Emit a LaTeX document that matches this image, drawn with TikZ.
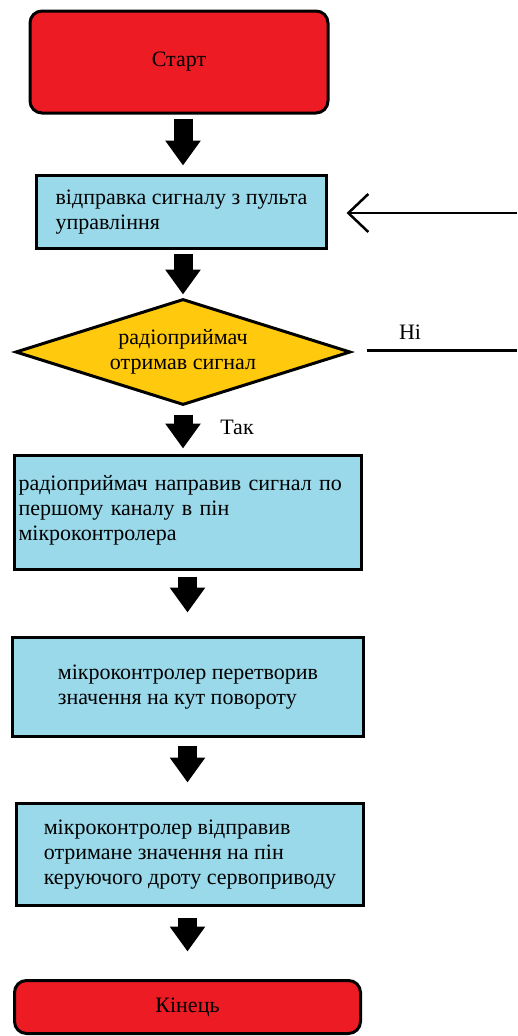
\documentclass[tikz,border=0pt]{standalone}
\usepackage{fontspec}
\setmainfont{Liberation Serif}
\usetikzlibrary{shapes.geometric,arrows.meta}
\definecolor{termred}{HTML}{ED1C24}
\definecolor{boxblue}{HTML}{99D9EA}
\definecolor{decyellow}{HTML}{FFC90E}
\begin{document}
\begin{tikzpicture}[x=1pt, y=-1pt,
  every node/.style={font=\rmfamily\fontsize{22}{25}\selectfont},
  term/.style={draw, line width=3pt, fill=termred, rounded corners=12pt},
  stepbox/.style={draw, line width=3pt, fill=boxblue, align=left, inner sep=0pt},
  decision/.style={diamond, shape aspect=3.2, draw, line width=3pt, fill=decyellow, align=center, inner sep=0pt},
  flow/.style={line width=19pt, -{Triangle[length=25pt, width=34pt]}}]
  \useasboundingbox (0,0) rectangle (517,1036);
  % блоки
  \node[term, minimum width=298pt, minimum height=102pt] (start) at (179,62) {Старт};
  \node[stepbox, minimum width=290pt, minimum height=73pt] (send) at (181.5,212)
    {відправка сигналу з пульта\\управління};
  \node[decision, minimum width=335pt, minimum height=106pt] (dec) at (183,352)
    {радіоприймач\\отримав сигнал};
  \node[stepbox, text width=339pt, inner xsep=4pt, minimum height=114pt] (route) at (188,512.5)
    {радіоприймач направив сигнал по\\першому каналу в пін\\мікроконтролера\\[-16pt]\mbox{}};
  \node[stepbox, minimum width=351pt, minimum height=99pt] (convert) at (188,687)
    {мікроконтролер перетворив\\значення на кут повороту};
  \node[stepbox, minimum width=347pt, minimum height=102pt] (servo) at (190,854.5)
    {мікроконтролер відправив\\отримане значення на пін\\керуючого дроту сервоприводу};
  \node[term, minimum width=346pt, minimum height=53pt] (stop) at (187.5,1007) {Кінець};
  % стрілки
  \draw[flow, shorten <=4pt, shorten >=8.5pt] (start.south -| dec.center) -- (send.north -| dec.center);
  \draw[flow, shorten <=3.5pt, shorten >=3pt] (send.south -| dec.center) -- (dec.north);
  \draw[flow, shorten <=8pt, shorten >=5.5pt] (dec.south) -- (route.north -| dec.center);
  \draw[flow, shorten <=5.5pt, shorten >=23.5pt] (route.south -| stop.center) -- (convert.north -| stop.center);
  \draw[flow, shorten <=7.5pt, shorten >=19.5pt] (convert.south -| stop.center) -- (servo.north -| stop.center);
  \draw[flow, shorten <=10.5pt, shorten >=27.5pt] (servo.south -| stop.center) -- (stop.north);
  \node (yes) at (237,427) {Так};
  % гілка «Ні»
  \coordinate (noend) at (517,350);
  \coordinate (back) at (517,213);
  \draw[line width=3pt, shorten <=14.5pt] (dec.east |- noend) -- (noend);
  \node (no) at (410,332) {Ні};
  \draw[line width=2.5pt, -{Straight Barb[length=20pt, width=38pt]}, shorten >=18.5pt] (back) -- (send.east |- back);
\end{tikzpicture}
\end{document}
